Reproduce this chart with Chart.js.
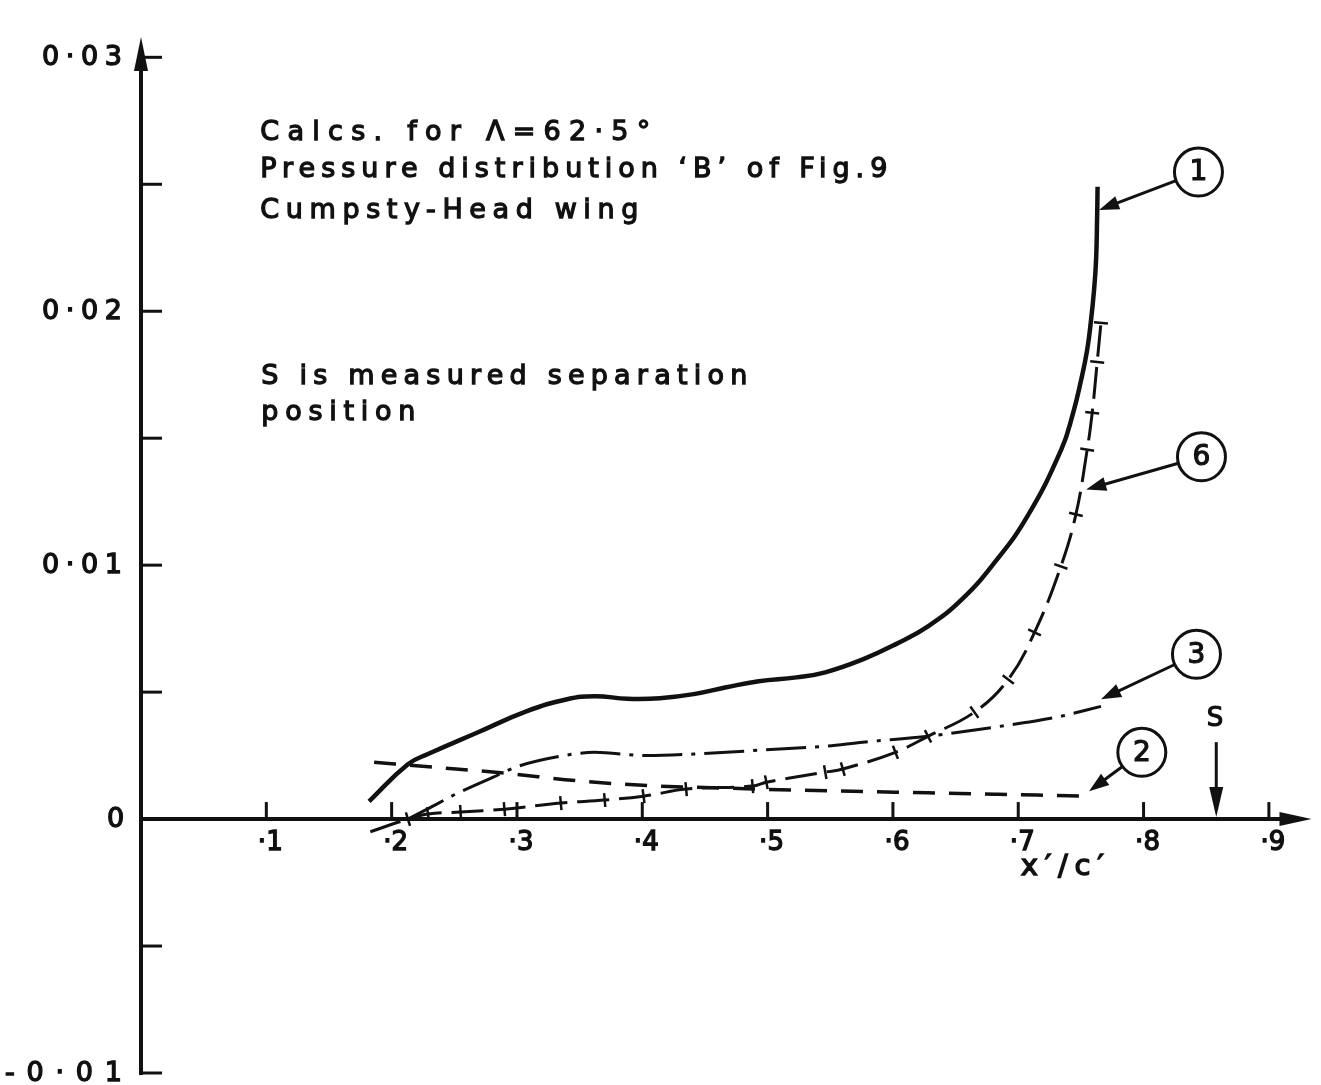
<!DOCTYPE html>
<html>
<head>
<meta charset="utf-8">
<script src="https://cdn.jsdelivr.net/npm/chart.js@4.4.0/dist/chart.umd.min.js"></script>
<style>
  html, body { margin: 0; padding: 0; background: #fff; }
  #wrap { width: 1321px; height: 1085px; }
</style>
</head>
<body>
<div id="wrap"><canvas id="chart" width="1321" height="1085"></canvas></div>
<script>
// -----------------------
// Data
// -----------------------
// curve 1 (solid)
const curve1X = [0.182, 0.213, 0.229, 0.269, 0.308, 0.340, 0.362, 0.388, 0.414, 0.441, 0.467, 0.493, 0.523, 0.546, 0.576, 0.602, 0.628, 0.655, 0.681, 0.707, 0.7343, 0.7438, 0.7502, 0.7550, 0.7581, 0.7605, 0.7621, 0.7629, 0.7633];
const curve1Y = [0.0007, 0.00216, 0.00256, 0.00342, 0.00425, 0.00472, 0.00484, 0.00474, 0.00476, 0.00492, 0.00519, 0.00543, 0.00558, 0.00578, 0.00629, 0.00688, 0.00759, 0.00865, 0.0101, 0.0119, 0.01455, 0.0160, 0.0173, 0.01848, 0.01966, 0.02084, 0.02202, 0.0236, 0.0249];

// curve 6 (long dash with cross ticks)
const curve6X = [0.183, 0.213, 0.229, 0.255, 0.290, 0.335, 0.370, 0.401, 0.435, 0.488, 0.499, 0.546, 0.560, 0.602, 0.628, 0.665, 0.692, 0.713, 0.734, 0.746, 0.755, 0.759, 0.763, 0.766];
const curve6Y = [-0.0005, 0.0, 0.0002, 0.00028, 0.00039, 0.00063, 0.00075, 0.0009, 0.00118, 0.0013, 0.00145, 0.00185, 0.00197, 0.00263, 0.00326, 0.00421, 0.0055, 0.00735, 0.00995, 0.0120, 0.01455, 0.0160, 0.0180, 0.01954];

// curve 3 (chain dotted)
const curve3X = [0.213, 0.236, 0.251, 0.281, 0.301, 0.335, 0.362, 0.404, 0.441, 0.493, 0.546, 0.576, 0.628, 0.681, 0.707, 0.734, 0.766];
const curve3Y = [0.0, 0.00059, 0.00098, 0.00165, 0.00208, 0.00248, 0.00263, 0.00250, 0.00256, 0.00271, 0.00287, 0.00303, 0.00326, 0.00362, 0.00381, 0.00405, 0.00444];

// curve 2 (dashed)
const curve2X = [0.186, 0.235, 0.290, 0.350, 0.412, 0.467, 0.523, 0.602, 0.681, 0.755];
const curve2Y = [0.00224, 0.00204, 0.00181, 0.00150, 0.00130, 0.00122, 0.00114, 0.00106, 0.00098, 0.0009];

// axes
const xTicks = [0.1, 0.2, 0.3, 0.4, 0.5, 0.6, 0.7, 0.8, 0.9];
const xTickLabels = ['·1', '·2', '·3', '·4', '·5', '·6', '·7', '·8', '·9'];
const yTicks = [0.03, 0.02, 0.01, 0, -0.01];
const yTickLabels = ['0·03', '0·02', '0·01', '0', '-0·01'];
const yMinorTicks = [0.025, 0.015, 0.005, -0.005];

// measured separation
const sepX = 0.858;

// curve labels: number, circle centre, arrow tip (data units)
const labelNums = ['1', '6', '3', '2'];
const labelAt = [[0.8438, 0.02548], [0.8462, 0.01427], [0.8422, 0.00649], [0.7986, 0.00263]];
const labelTip = [[0.7645, 0.02399], [0.7542, 0.01298], [0.7661, 0.00472], [0.7565, 0.0011]];

// free text: text, left x, middle y, width in px
const notes = [
  ['Calcs. for Λ=62·5°', 0.0952, 0.02702, 390],
  ['Pressure distribution ‘B’ of Fig.9', 0.0952, 0.02556, 627],
  ['Cumpsty-Head wing', 0.0952, 0.02395, 378],
  ['S is measured separation', 0.096, 0.01742, 486],
  ['position', 0.096, 0.0160, 154]
];

const ink = '#111';
const FONT = '"DejaVu Sans", "Liberation Sans", sans-serif';

function pts(xs, ys) {
  return xs.map((v, i) => ({ x: v, y: ys[i] }));
}

// -----------------------
// Drawing helpers
// -----------------------
function fitText(ctx, text, x, y, width, font, align) {
  ctx.font = font;
  ctx.letterSpacing = '0px';
  const w = ctx.measureText(text).width;
  const n = Math.max(text.length - 1, 1);
  const ls = (width - w) / n;
  const left = align === 'right' ? x - width : align === 'center' ? x - width / 2 : x;
  ctx.textAlign = 'left';
  ctx.textBaseline = 'middle';
  if ('letterSpacing' in ctx) {
    ctx.letterSpacing = ls + 'px';
    ctx.fillText(text, left, y);
    ctx.strokeText(text, left, y);
    ctx.letterSpacing = '0px';
  } else {
    ctx.save();
    ctx.translate(left, y);
    ctx.scale(width / w, 1);
    ctx.fillText(text, 0, 0);
    ctx.restore();
  }
}

function head(ctx, x1, y1, x2, y2, len, half) {
  const a = Math.atan2(y2 - y1, x2 - x1);
  ctx.beginPath();
  ctx.moveTo(x2, y2);
  ctx.lineTo(x2 - len * Math.cos(a) + half * Math.sin(a), y2 - len * Math.sin(a) - half * Math.cos(a));
  ctx.lineTo(x2 - len * Math.cos(a) - half * Math.sin(a), y2 - len * Math.sin(a) + half * Math.cos(a));
  ctx.closePath();
  ctx.fill();
}

function arrow(ctx, x1, y1, x2, y2, len, half) {
  const a = Math.atan2(y2 - y1, x2 - x1);
  ctx.beginPath();
  ctx.moveTo(x1, y1);
  ctx.lineTo(x2 - len * 0.6 * Math.cos(a), y2 - len * 0.6 * Math.sin(a));
  ctx.stroke();
  head(ctx, x1, y1, x2, y2, len, half);
}

const figure = {
  id: 'figure',
  afterDraw(chart) {
    const { ctx, chartArea, scales: { x, y } } = chart;
    const px = v => x.getPixelForValue(v);
    const py = v => y.getPixelForValue(v);
    const x0 = px(0), y0 = py(0);
    ctx.save();
    ctx.strokeStyle = ink;
    ctx.fillStyle = ink;
    ctx.lineCap = 'butt';

    // y axis with arrow
    ctx.lineWidth = 4;
    ctx.beginPath();
    ctx.moveTo(x0, py(-0.01) + 2);
    ctx.lineTo(x0, chartArea.top + 20);
    ctx.stroke();
    head(ctx, x0, chartArea.top + 40, x0, chartArea.top, 34, 7);

    // x axis with arrow
    ctx.beginPath();
    ctx.moveTo(x0, y0);
    ctx.lineTo(chartArea.right - 20, y0);
    ctx.stroke();
    head(ctx, chartArea.right - 40, y0, chartArea.right, y0, 32, 7);

    // y ticks (inward)
    ctx.lineWidth = 3;
    yTicks.concat(yMinorTicks).forEach(t => {
      ctx.beginPath();
      ctx.moveTo(x0, py(t));
      ctx.lineTo(x0 + 21, py(t));
      ctx.stroke();
    });
    // x ticks (upward)
    xTicks.forEach(t => {
      ctx.beginPath();
      ctx.moveTo(px(t), y0);
      ctx.lineTo(px(t), y0 - 17);
      ctx.stroke();
    });

    // tick labels
    ctx.lineWidth = 1.4;
    yTicks.forEach((t, i) => {
      const lab = yTickLabels[i];
      const w = lab === '0' ? 15 : lab.length === 5 ? 117 : 80;
      fitText(ctx, lab, x0 - 19, py(t) + 1, w, '27px ' + FONT, 'right');
    });
    xTicks.forEach((t, i) => {
      fitText(ctx, xTickLabels[i], px(t) + 4, y0 + 24, 25, '26px ' + FONT, 'center');
    });
    fitText(ctx, 'x′/c′', px(0.7351), py(-0.00189), 83, '29px ' + FONT, 'center');

    // notes
    ctx.lineWidth = 1.3;
    notes.forEach(n => fitText(ctx, n[0], px(n[1]), py(n[2]), n[3], '27px ' + FONT, 'left'));

    // circled curve labels with arrows
    labelNums.forEach((num, i) => {
      const cx = px(labelAt[i][0]), cy = py(labelAt[i][1]);
      const tx = px(labelTip[i][0]), ty = py(labelTip[i][1]);
      const r = 24;
      ctx.lineWidth = 3;
      ctx.beginPath();
      ctx.arc(cx, cy, r, 0, Math.PI * 2);
      ctx.stroke();
      const a = Math.atan2(ty - cy, tx - cx);
      arrow(ctx, cx + r * Math.cos(a), cy + r * Math.sin(a), tx, ty, 20, 7);
      ctx.lineWidth = 1.2;
      ctx.font = '28px ' + FONT;
      ctx.textAlign = 'center';
      ctx.textBaseline = 'middle';
      ctx.fillText(num, cx, cy + 1);
      ctx.strokeText(num, cx, cy + 1);
    });

    // separation marker S
    ctx.lineWidth = 3;
    arrow(ctx, px(sepX), py(0.00303), px(sepX), y0 - 2, 30, 7);
    ctx.lineWidth = 1.2;
    fitText(ctx, 'S', px(sepX) - 1, py(0.00393), 17, '26px ' + FONT, 'center');
    ctx.restore();
  }
};

function tickRotation(ctx) {
  const data = ctx.dataset.data;
  const i = ctx.dataIndex;
  const sx = ctx.chart.scales.x, sy = ctx.chart.scales.y;
  const a = data[Math.max(i - 1, 0)], b = data[Math.min(i + 1, data.length - 1)];
  const dx = sx.getPixelForValue(b.x) - sx.getPixelForValue(a.x);
  const dy = sy.getPixelForValue(b.y) - sy.getPixelForValue(a.y);
  return Math.atan2(dy, dx) * 180 / Math.PI + 90;
}

new Chart(document.getElementById('chart'), {
  type: 'scatter',
  data: {
    datasets: [
      {
        label: '1', data: pts(curve1X, curve1Y), showLine: true, borderColor: ink, borderWidth: 4.5, pointRadius: 0,
        cubicInterpolationMode: 'default', tension: 0.45
      },
      {
        label: '6', data: pts(curve6X, curve6Y), showLine: true, borderColor: ink, borderWidth: 3,
        borderDash: [32, 10], cubicInterpolationMode: 'default', tension: 0.4,
        pointStyle: 'line', pointBorderColor: ink, pointBorderWidth: 2.5,
        pointRadius: c => (c.dataIndex === 0 ? 0 : 7),
        rotation: tickRotation
      },
      { label: '3', data: pts(curve3X, curve3Y), showLine: true, borderColor: ink, borderWidth: 3, borderDash: [40, 9, 4, 9], pointRadius: 0 },
      { label: '2', data: pts(curve2X, curve2Y), showLine: true, borderColor: ink, borderWidth: 3.5, borderDash: [22, 14], pointRadius: 0 }
    ]
  },
  options: {
    responsive: false,
    animation: false,
    devicePixelRatio: 1,
    layout: { padding: { left: 141, right: 2, top: 37, bottom: 12 } },
    elements: { line: { cubicInterpolationMode: 'monotone', borderCapStyle: 'butt' } },
    scales: {
      x: { type: 'linear', min: 0, max: 0.934, display: false },
      y: { type: 'linear', min: -0.01, max: 0.0308, display: false }
    },
    plugins: { legend: { display: false }, tooltip: { enabled: false } }
  },
  plugins: [figure]
});
</script>
</body>
</html>
